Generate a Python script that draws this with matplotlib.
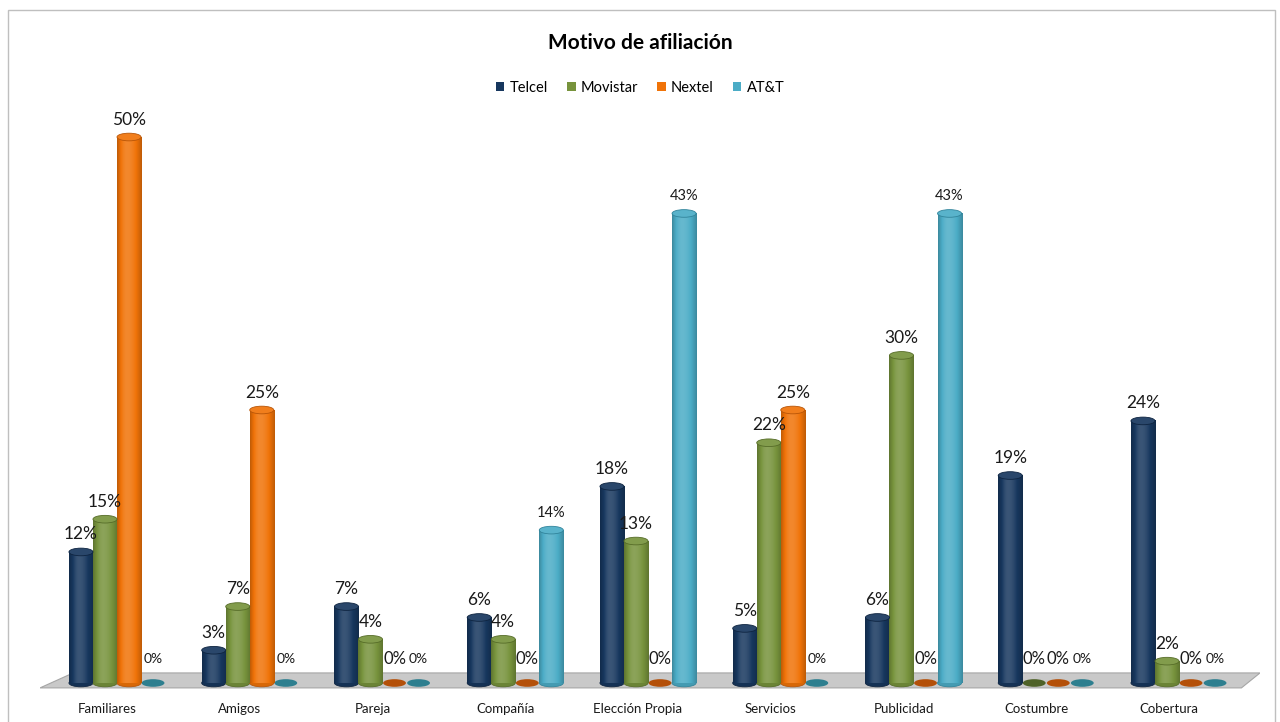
import numpy as np
import matplotlib
matplotlib.use('Agg')
import matplotlib.pyplot as plt
from matplotlib.colors import to_rgb
from matplotlib.patches import Ellipse, Patch, Polygon, Rectangle

plt.rcParams['font.family'] = ['Lato', 'DejaVu Sans']

categories = ['Familiares', 'Amigos', 'Pareja', 'Compañía', 'Elección Propia',
              'Servicios', 'Publicidad', 'Costumbre', 'Cobertura']
series = ['Telcel', 'Movistar', 'Nextel', 'AT&T']
telcel = [12, 3, 7, 6, 18, 5, 6, 19, 24]
movistar = [15, 7, 4, 4, 13, 22, 30, 0, 2]
nextel = [50, 25, 0, 0, 0, 25, 0, 0, 0]
att = [0, 0, 0, 14, 43, 0, 43, 0, 0]

colors = ['#17375e', '#77933c', '#f07308', '#4bacc6']
edge_colors = ['#0e2440', '#566c28', '#b85507', '#31849b']
zero_colors = ['#244061', '#4f6228', '#b45009', '#2e7f8f']


def shade(c, f):
    c = np.array(to_rgb(c))
    if f < 1:
        return c * f
    return c + (1 - c) * (f - 1)


# horizontal brightness profile of a cylinder
t = np.linspace(0, 1, 40)
profile = np.where(t < 0.4, 0.8 + 0.35 * np.sin(t / 0.4 * np.pi / 2),
                   0.8 + 0.35 * np.cos((t - 0.4) / 0.6 * np.pi / 2))

fig = plt.figure(figsize=(12.8, 7.22), dpi=100)
ax = fig.add_axes([40 / 1280, 1 - 695 / 722, 1220 / 1280, 595 / 722])
xlim = (-0.58, 8.61)
ylim = (-1.1, 53.39)

# grey floor
floor = Polygon([(xlim[0], -0.45), (xlim[0] + 0.25, 0.92), (xlim[1], 0.92), (xlim[1] - 0.14, -0.45)],
                closed=True, facecolor='#c9c9c9', edgecolor='#a6a6a6', lw=0.8, zorder=1)
ax.add_patch(floor)

x = np.arange(len(categories))
width = 0.181
offsets = [-1.5, -0.5, 0.5, 1.5]
cap_h = 0.7

for k, vals in enumerate([telcel, movistar, nextel, att]):
    img = np.array([[shade(colors[k], f) for f in profile]])
    for i, v in enumerate(vals):
        cx = x[i] + offsets[k] * width
        if v == 0:
            ax.add_patch(Ellipse((cx, 0), width * 0.95, cap_h, facecolor=zero_colors[k],
                                 edgecolor='none', zorder=3))
            ax.text(cx, 2.2, '0%', ha='center', va='center', fontsize=10 if k == 3 else 12,
                    color='#1a1a1a', zorder=6)
            continue
        ax.add_patch(Ellipse((cx, 0), width, cap_h, facecolor=shade(colors[k], 0.9),
                             edgecolor=edge_colors[k], lw=0.6, zorder=3))
        ax.imshow(img, extent=(cx - width / 2, cx + width / 2, 0, v), aspect='auto',
                  interpolation='bilinear', zorder=4)
        ax.add_patch(Ellipse((cx, v), width, cap_h, facecolor=shade(colors[k], 1.08),
                             edgecolor=edge_colors[k], lw=0.6, zorder=5))
        ax.text(cx, v + 1.6, f'{v}%', ha='center', va='center',
                fontsize=10.5 if k == 3 else 12.5, color='#1a1a1a', zorder=6)

ax.set_xlim(*xlim)
ax.set_ylim(*ylim)
ax.axis('off')

for i, c in enumerate(categories):
    ax.text(x[i] - 0.075, -2.4, c, ha='center', va='center', fontsize=9.5,
            color='#1a1a1a', clip_on=False)

fig.text(0.5, 1 - 43 / 722, 'Motivo de afiliación', ha='center', va='center',
         fontsize=15, fontweight='bold', color='#000000')

handles = [Patch(facecolor=colors[k], edgecolor='none', label=series[k]) for k in range(4)]
fig.legend(handles=handles, loc='center', bbox_to_anchor=(0.5, 1 - 88 / 722), ncol=4,
           frameon=False, fontsize=10.5, handlelength=0.6, handleheight=0.6,
           handletextpad=0.35, columnspacing=1.3)

# outer chart border
fig.patches.append(Rectangle((8 / 1280, -0.01), 1267 / 1280, 1 - 10 / 722 + 0.01,
                             transform=fig.transFigure, fill=False, edgecolor='#bfbfbf', lw=1))

fig.savefig('out.png', dpi=100)
